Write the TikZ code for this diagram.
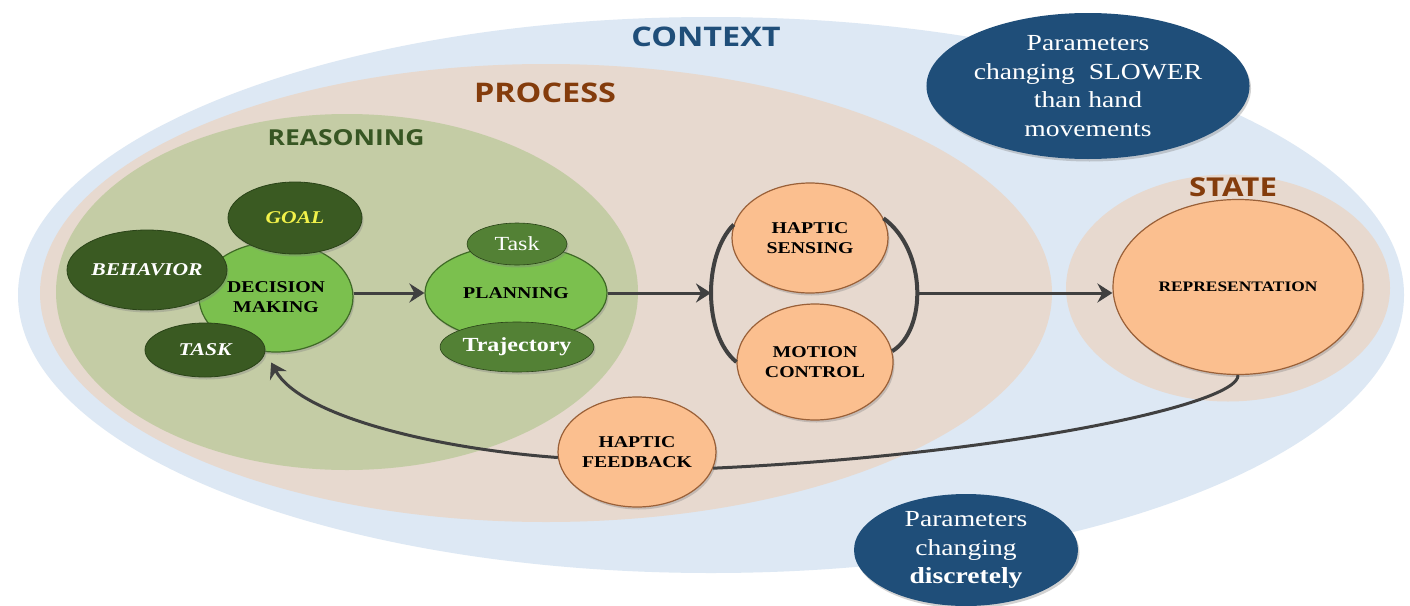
\documentclass[tikz,border=0pt]{standalone}
\usepackage{fontspec}
\setmainfont[FakeStretch=1.2]{Liberation Serif}
\newfontfamily\headfont[FakeStretch=1.2]{Open Sans}
\usetikzlibrary{shapes.geometric,arrows.meta,shadows}
\definecolor{ctxblue}{HTML}{DDE8F4}
\definecolor{procbeige}{HTML}{E7D9CF}
\definecolor{reasgreen}{HTML}{C4CCA5}
\definecolor{navy}{HTML}{1F4E79}
\definecolor{brownred}{HTML}{843C0C}
\definecolor{headgreen}{HTML}{375623}
\definecolor{dkgreen}{HTML}{3A5A22}
\definecolor{dkgreenb}{HTML}{2A4318}
\definecolor{ltgreen}{HTML}{7BC04E}
\definecolor{ltgreenb}{HTML}{3F6A26}
\definecolor{midgreen}{HTML}{538135}
\definecolor{orangefill}{HTML}{FBBF8F}
\definecolor{orangeb}{HTML}{9A6038}
\definecolor{linkgray}{HTML}{404040}
\definecolor{goalyellow}{HTML}{F2F24A}
\begin{document}
\begin{tikzpicture}[x=1pt,y=1pt,
  bgell/.style={ellipse, inner sep=0pt, draw=none},
  shad/.style={drop shadow={shadow xshift=1.5pt, shadow yshift=-2.5pt, opacity=0.35}},
  darkell/.style={ellipse, inner sep=0pt, fill=dkgreen, draw=dkgreenb, line width=0.8pt, text=white,
    font=\bfseries\itshape\fontsize{18}{20}\selectfont, shad},
  lightcirc/.style={ellipse, inner sep=0pt, fill=ltgreen, draw=ltgreenb, line width=1.2pt, text=black,
    align=center, font=\bfseries\fontsize{16.5}{20}\selectfont, shad},
  midell/.style={ellipse, inner sep=0pt, fill=midgreen, draw=dkgreenb, line width=0.6pt, text=white,
    font=\fontsize{20}{22}\selectfont, shad},
  orangecirc/.style={ellipse, inner sep=0pt, fill=orangefill, draw=orangeb, line width=1.2pt, text=black,
    align=center, font=\bfseries\fontsize{16.5}{20}\selectfont, shad},
  navyell/.style={ellipse, inner sep=0pt, fill=navy, draw=none, text=white, align=center,
    font=\fontsize{23}{28.5}\selectfont, shad},
  headtxt/.style={font=\headfont\bfseries\fontsize{27}{30}\selectfont, inner sep=0pt},
  conn/.style={draw=linkgray, line width=3pt},
  loopline/.style={draw=linkgray, line width=4pt},
  arr/.style={conn, -{Stealth[length=15pt, width=19pt, inset=5pt]}}
]
\useasboundingbox (0,0) rectangle (1410,-605);
\fill[white] (0,0) rectangle (1410,-605);

% background regions
\node[bgell, fill=ctxblue, minimum width=1386pt, minimum height=556pt] (ctx) at (711,-295) {};
\node[bgell, fill=procbeige, minimum width=1012pt, minimum height=458pt] (proc) at (546,-293) {};
\node[bgell, fill=reasgreen, minimum width=582pt, minimum height=356pt] (reas) at (347,-292) {};
\node[bgell, fill=procbeige, minimum width=324pt, minimum height=227pt] (state) at (1228,-288) {};

% headings
\node[headtxt, text=navy] (tctx) at (706,-37) {CONTEXT};
\node[headtxt, text=brownred] (tproc) at (545,-93) {PROCESS};
\node[headtxt, text=headgreen, font=\headfont\bfseries\fontsize{22}{24}\selectfont] (treas) at (346,-138) {REASONING};
\node[headtxt, text=brownred, font=\headfont\bfseries\fontsize{26}{28}\selectfont] (tstate) at (1233,-187) {STATE};

% parameter ellipses
\node[navyell, minimum width=280pt, minimum height=146pt] (slow) at (1088,-86)
  {Parameters\\changing\ \ SLOWER\\than hand\\movements};
\node[navyell, minimum width=224pt, minimum height=112pt] (discr) at (966,-550)
  {Parameters\\changing\\\textbf{discretely}};

% reasoning cluster
\node[lightcirc, minimum width=154pt, minimum height=110pt] (dm) at (276,-297) {DECISION\\MAKING};
\node[darkell, minimum width=160pt, minimum height=80pt] (behav) at (147,-270) {BEHAVIOR};
\node[darkell, minimum width=134pt, minimum height=72pt, text=goalyellow] (goal) at (295,-218) {GOAL};
\node[darkell, minimum width=120pt, minimum height=54pt] (task) at (205,-350) {TASK};

\node[lightcirc, minimum width=182pt, minimum height=96pt] (plan) at (516,-293) {PLANNING};
\node[midell, minimum width=100pt, minimum height=42pt] (ptask) at (517,-244) {Task};
\node[midell, minimum width=130pt, minimum height=50pt, font=\bfseries\fontsize{20}{22}\selectfont] (traj) at (517,-347) {Trajectory};

% process circles
\node[orangecirc, minimum width=156pt, minimum height=110pt] (hs) at (810,-238) {HAPTIC\\SENSING};
\node[orangecirc, minimum width=156pt, minimum height=116pt] (mc) at (815,-362) {MOTION\\CONTROL};
\node[orangecirc, minimum width=158pt, minimum height=110pt] (hf) at (637,-452) {HAPTIC\\FEEDBACK};
\node[orangecirc, minimum width=250pt, minimum height=175pt, font=\bfseries\fontsize{14.5}{17}\selectfont] (rep) at (1238,-287) {REPRESENTATION};

% junction points of the loop
\coordinate (jl) at (711,-293);
\coordinate (jr) at (917,-293);

% connectors
\draw[arr] (dm.east |- plan.west) -- (plan.west);
\draw[arr] (plan.east) -- (jl);
\draw[loopline] (hs.170) .. controls (703,-255) and (703,-335) .. (mc.west);
\draw[loopline] (hs.15) .. controls (927,-250) and (927,-330) .. (mc.8);
\draw[arr] (jr) -- (rep.west |- jr);
\draw[conn] (rep.south) .. controls (1240,-405) and (1000,-455) .. (hf.-12);
\draw[arr] (hf.184) .. controls (430,-448) and (300,-415) .. ([yshift=-10pt]dm.-95);
\end{tikzpicture}
\end{document}
